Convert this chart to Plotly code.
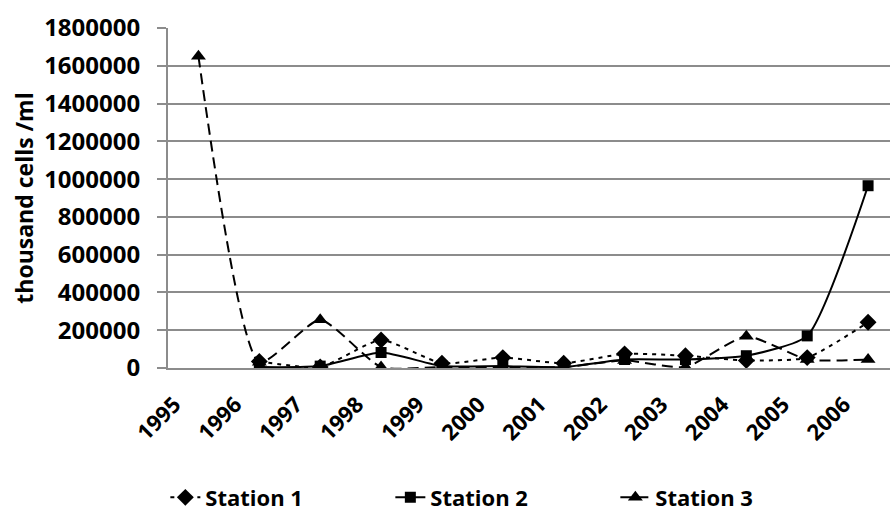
import plotly.graph_objects as go

years = ["1995", "1996", "1997", "1998", "1999", "2000", "2001", "2002", "2003", "2004", "2005", "2006"]
station1 = [None, 35000, 5000, 148000, 25000, 55000, 25000, 75000, 65000, 40000, 55000, 242000]
station2 = [None, 5000, 10000, 82000, 10000, 10000, 5000, 45000, 45000, 65000, 170000, 965000]
station3 = [1650000, 30000, 255000, 5000, 5000, 5000, 5000, 40000, 5000, 168000, 45000, 45000]
y_ticks = [0, 200000, 400000, 600000, 800000, 1000000, 1200000, 1400000, 1600000, 1800000]

FONT = "Open Sans"
x_idx = list(range(len(years)))
SM = 0.55

fig = go.Figure()
fig.add_trace(go.Scatter(
    x=x_idx, y=station1, name="Station 1", mode="lines+markers",
    line=dict(color="black", width=2, dash="4px,5px", shape="spline", smoothing=SM),
    marker=dict(symbol="diamond", size=13, color="black"),
))
fig.add_trace(go.Scatter(
    x=x_idx, y=station2, name="Station 2", mode="lines+markers",
    line=dict(color="black", width=2, shape="spline", smoothing=SM),
    marker=dict(symbol="square", size=11, color="black"),
))
fig.add_trace(go.Scatter(
    x=x_idx, y=station3, name="Station 3", mode="lines+markers",
    line=dict(color="black", width=2, dash="11px,6px", shape="spline", smoothing=SM),
    marker=dict(symbol="triangle-up", size=13, color="black"),
))

fig.update_layout(
    width=890, height=521,
    margin=dict(l=168, r=0, t=28, b=153),
    paper_bgcolor="white", plot_bgcolor="white",
    font=dict(family=FONT, color="black"),
    showlegend=True,
    legend=dict(
        orientation="h", xref="container", yref="container",
        x=0.565, xanchor="center", y=0.045, yanchor="middle",
        font=dict(family=FONT, size=22, color="black", weight="bold"),
        entrywidth=180, entrywidthmode="pixels", traceorder="normal",
    ),
)
fig.update_xaxes(
    range=[-0.5, 11.36],
    tickmode="array", tickvals=x_idx, ticktext=years,
    tickangle=-45, ticklabelshift=-24, ticklabelstandoff=13,
    tickfont=dict(family=FONT, size=22, color="black", weight="bold"),
    showgrid=False, showline=True, linecolor="#8c8c8c", linewidth=2,
    zeroline=False, ticks="",
)
fig.update_yaxes(
    range=[0, 1800000],
    tickmode="array", tickvals=y_ticks, ticktext=[str(v) for v in y_ticks],
    tickfont=dict(family=FONT, size=24, color="black", weight="bold"),
    ticklabelstandoff=12,
    showgrid=True, gridcolor="#8c8c8c", gridwidth=2,
    showline=True, linecolor="#8c8c8c", linewidth=2,
    ticks="outside", ticklen=9, tickcolor="#8c8c8c", tickwidth=2,
    zeroline=False,
    title=dict(text="thousand cells /ml", font=dict(family=FONT, size=23, color="black", weight="bold"), standoff=4),
)

fig.write_html("out.html")
